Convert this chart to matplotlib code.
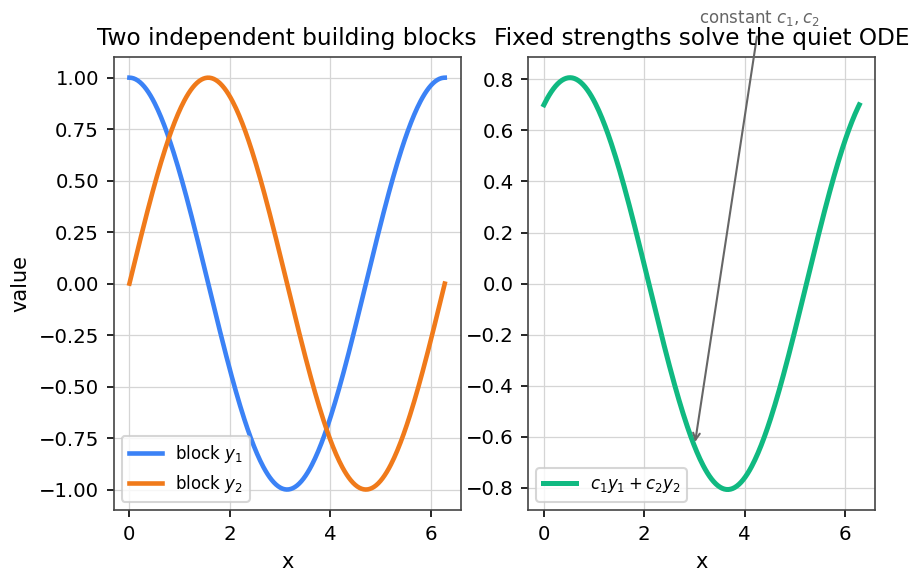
import numpy as np
import matplotlib
matplotlib.use("Agg")
import matplotlib.pyplot as plt

# two building blocks of y'' + y = 0 and a fixed combination
x = np.linspace(0, 2 * np.pi, 300)
y1 = np.cos(x)
y2 = np.sin(x)
c1 = 0.7
c2 = 0.4
combo = c1 * y1 + c2 * y2
x_mark = 3.0

plt.rcParams["font.size"] = 10
plt.rcParams["axes.edgecolor"] = "#444444"
plt.rcParams["xtick.labelsize"] = 9.5
plt.rcParams["ytick.labelsize"] = 9.5

fig, (ax1, ax2) = plt.subplots(1, 2, figsize=(6.16, 3.887), dpi=150)
fig.subplots_adjust(left=0.123, right=0.947, top=0.902, bottom=0.125, wspace=0.195)

ax1.plot(x, y1, color="#3b82f6", linewidth=2.2, label="block $y_1$")
ax1.plot(x, y2, color="#f07a1a", linewidth=2.2, label="block $y_2$")
ax1.set_title("Two independent building blocks", fontsize=11.2)
ax1.set_xlabel("x")
ax1.set_ylabel("value")
ax1.grid(True, color="#d5d5d5", linewidth=0.6)
ax1.legend(loc="lower left", fontsize=8)

ax2.plot(x, combo, color="#10b981", linewidth=2.4, label="$c_1y_1 + c_2y_2$")
ax2.set_title("Fixed strengths solve the quiet ODE", fontsize=11.2)
ax2.set_xlabel("x")
ax2.grid(True, color="#d5d5d5", linewidth=0.6)
ax2.legend(loc="lower left", fontsize=8)
ax2.annotate("constant $c_1, c_2$", xy=(x_mark, c1 * np.cos(x_mark) + c2 * np.sin(x_mark)),
             xytext=(4.3, 1.0), ha="center", va="bottom", fontsize=8, color="#666666",
             arrowprops=dict(arrowstyle="->", color="#666666", lw=1))

fig.savefig("out.png", dpi=150)
